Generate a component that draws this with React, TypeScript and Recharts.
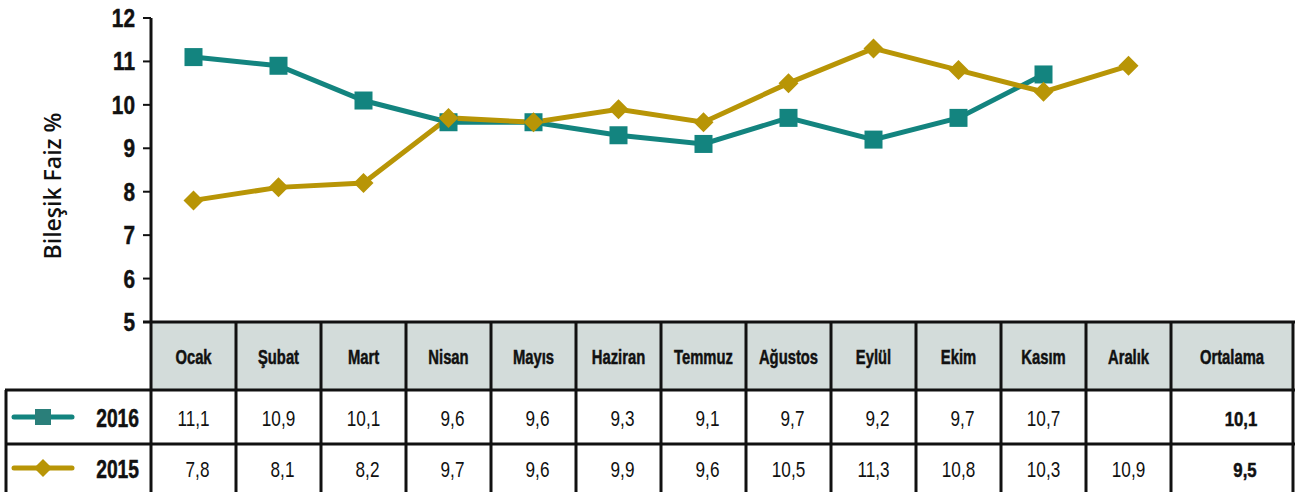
import React from 'react';
import { LineChart, Line, XAxis, YAxis } from 'recharts';

const months = ['Ocak', 'Şubat', 'Mart', 'Nisan', 'Mayıs', 'Haziran', 'Temmuz', 'Ağustos', 'Eylül', 'Ekim', 'Kasım', 'Aralık'];
const values2016: (number | null)[] = [11.1, 10.9, 10.1, 9.6, 9.6, 9.3, 9.1, 9.7, 9.2, 9.7, 10.7, null];
const values2015: (number | null)[] = [7.8, 8.1, 8.2, 9.7, 9.6, 9.9, 9.6, 10.5, 11.3, 10.8, 10.3, 10.9];
const averageLabel = 'Ortalama';
const averages = [10.1, 9.5];
const seriesNames = ['2016', '2015'];
const yTicks = [5, 6, 7, 8, 9, 10, 11, 12];

const TEAL = '#13847f';
const GOLD = '#b89506';
const HEADER_BG = '#d3dcda';
const FONT = "'Liberation Sans', Arial, sans-serif";

const W = 1295;
const H = 492;
const PLOT_LEFT = 151;
const COL = 85;
const PLOT_RIGHT = PLOT_LEFT + COL * months.length;

const data = months.map((m, i) => ({ month: m, pos: i + 0.5, s2016: values2016[i], s2015: values2015[i] }));

const fmt = (v: number | null) => (v == null ? '' : v.toFixed(1).replace('.', ','));

// condensed look: regular font squeezed horizontally
const NarrowText = ({ x, y, size, bold, anchor = 'middle', sx = 0.8, children }: any) => (
  <text
    transform={`translate(${x} ${y}) scale(${sx} 1)`}
    textAnchor={anchor}
    fontFamily={FONT}
    fontWeight={bold ? 'bold' : 'normal'}
    fontSize={size}
    fill="#111"
    stroke={bold ? '#111' : 'none'}
    strokeWidth={bold ? 0.5 : 0}
  >
    {children}
  </text>
);

const YTick = (props: any) => {
  const { x, y, payload } = props;
  return (
    <NarrowText x={x} y={y + 9} size={26} bold anchor="end" sx={0.8}>
      {payload.value}
    </NarrowText>
  );
};

const SquareDot = (props: any) => {
  const { cx, cy } = props;
  if (cx == null || cy == null) return null;
  return <rect x={cx - 9} y={cy - 9} width={18} height={18} fill={TEAL} />;
};

const DiamondDot = (props: any) => {
  const { cx, cy } = props;
  if (cx == null || cy == null) return null;
  return <path d={`M${cx},${cy - 10}L${cx + 10},${cy}L${cx},${cy + 10}L${cx - 10},${cy}Z`} fill={GOLD} />;
};

const DataTable = () => {
  const tableTop = 322;
  const headerBottom = 390;
  const rowMid = 444;
  const left = 6;
  const right = 1293;
  const edges = months.map((_, i) => PLOT_LEFT + COL * i).concat([PLOT_RIGHT]);
  const rows = [values2016, values2015];
  const rowCenters = [418, 469];
  const stroke = '#111';
  return (
    <svg width={W} height={H} style={{ position: 'absolute', left: 0, top: 0, pointerEvents: 'none' }}>
      <rect x={PLOT_LEFT} y={tableTop} width={right - PLOT_LEFT} height={headerBottom - tableTop} fill={HEADER_BG} />
      <line x1={PLOT_LEFT - 8} x2={right + 2} y1={tableTop} y2={tableTop} stroke={stroke} strokeWidth={3} />
      <line x1={left - 1} x2={right + 2} y1={headerBottom} y2={headerBottom} stroke={stroke} strokeWidth={3} />
      <line x1={left - 1} x2={right + 2} y1={rowMid} y2={rowMid} stroke={stroke} strokeWidth={3} />
      <line x1={left} x2={left} y1={headerBottom} y2={H} stroke={stroke} strokeWidth={3} />
      {edges.map((x) => (
        <line key={x} x1={x} x2={x} y1={tableTop} y2={H} stroke={stroke} strokeWidth={3} />
      ))}
      <line x1={right} x2={right} y1={tableTop} y2={H} stroke={stroke} strokeWidth={3} />
      {months.map((m, i) => (
        <NarrowText key={m} x={PLOT_LEFT + COL * (i + 0.5)} y={364} size={20} bold sx={0.74}>
          {m}
        </NarrowText>
      ))}
      <NarrowText x={(PLOT_RIGHT + right) / 2} y={364} size={20} bold sx={0.74}>
        {averageLabel}
      </NarrowText>
      {rows.map((vals, r) => (
        <g key={r}>
          {vals.map((v, i) => (
            <NarrowText key={i} x={PLOT_LEFT + COL * (i + 0.5) + (v != null && v < 10 ? 4 : 0)} y={rowCenters[r] + 8} size={22} sx={0.78}>
              {fmt(v)}
            </NarrowText>
          ))}
          <NarrowText x={(PLOT_RIGHT + right) / 2 + 9 + (averages[r] < 10 ? 4 : 0)} y={rowCenters[r] + 8} size={21} bold sx={0.8}>
            {fmt(averages[r])}
          </NarrowText>
          <NarrowText x={139} y={rowCenters[r] + 9} size={25} bold anchor="end" sx={0.77}>
            {seriesNames[r]}
          </NarrowText>
        </g>
      ))}
      <line x1={14} x2={72} y1={rowCenters[0] - 1} y2={rowCenters[0] - 1} stroke={TEAL} strokeWidth={5} strokeLinecap="round" />
      <rect x={35} y={rowCenters[0] - 9} width={16} height={16} fill="#2a7f7a" />
      <line x1={14} x2={72} y1={rowCenters[1] - 1} y2={rowCenters[1] - 1} stroke={GOLD} strokeWidth={5} strokeLinecap="round" />
      <path d={`M43,${rowCenters[1] - 10}L52,${rowCenters[1] - 1}L43,${rowCenters[1] + 8}L34,${rowCenters[1] - 1}Z`} fill={GOLD} />
    </svg>
  );
};

const YLabel = () => (
  <text x={52} y={186} transform="rotate(-90 52 186)" textAnchor="middle" dominantBaseline="central" fontFamily="'Open Sans', sans-serif" fontWeight={600} fontSize={23} fill="#111">
    Bileşik Faiz %
  </text>
);

export default function App() {
  return (
    <div style={{ position: 'absolute', left: 0, top: 0, width: W, height: H, background: '#fff', overflow: 'hidden' }}>
      <div style={{ position: 'absolute', left: 0, top: 0 }}>
        <LineChart width={W} height={345} data={data} margin={{ top: 18, right: W - PLOT_RIGHT, bottom: 23, left: 0 }}>
          <XAxis dataKey="pos" type="number" domain={[0, months.length]} hide />
          <YAxis
            width={PLOT_LEFT}
            domain={[5, 12]}
            ticks={yTicks}
            interval={0}
            tickSize={8}
            tickMargin={8}
            axisLine={{ stroke: '#111', strokeWidth: 3 }}
            tickLine={{ stroke: '#111', strokeWidth: 2 }}
            tick={<YTick />}
            label={<YLabel />}
          />
          <Line dataKey="s2016" stroke={TEAL} strokeWidth={5} dot={<SquareDot />} isAnimationActive={false} connectNulls={false} />
          <Line dataKey="s2015" stroke={GOLD} strokeWidth={5} dot={<DiamondDot />} isAnimationActive={false} />
        </LineChart>
      </div>
      <DataTable />
    </div>
  );
}
